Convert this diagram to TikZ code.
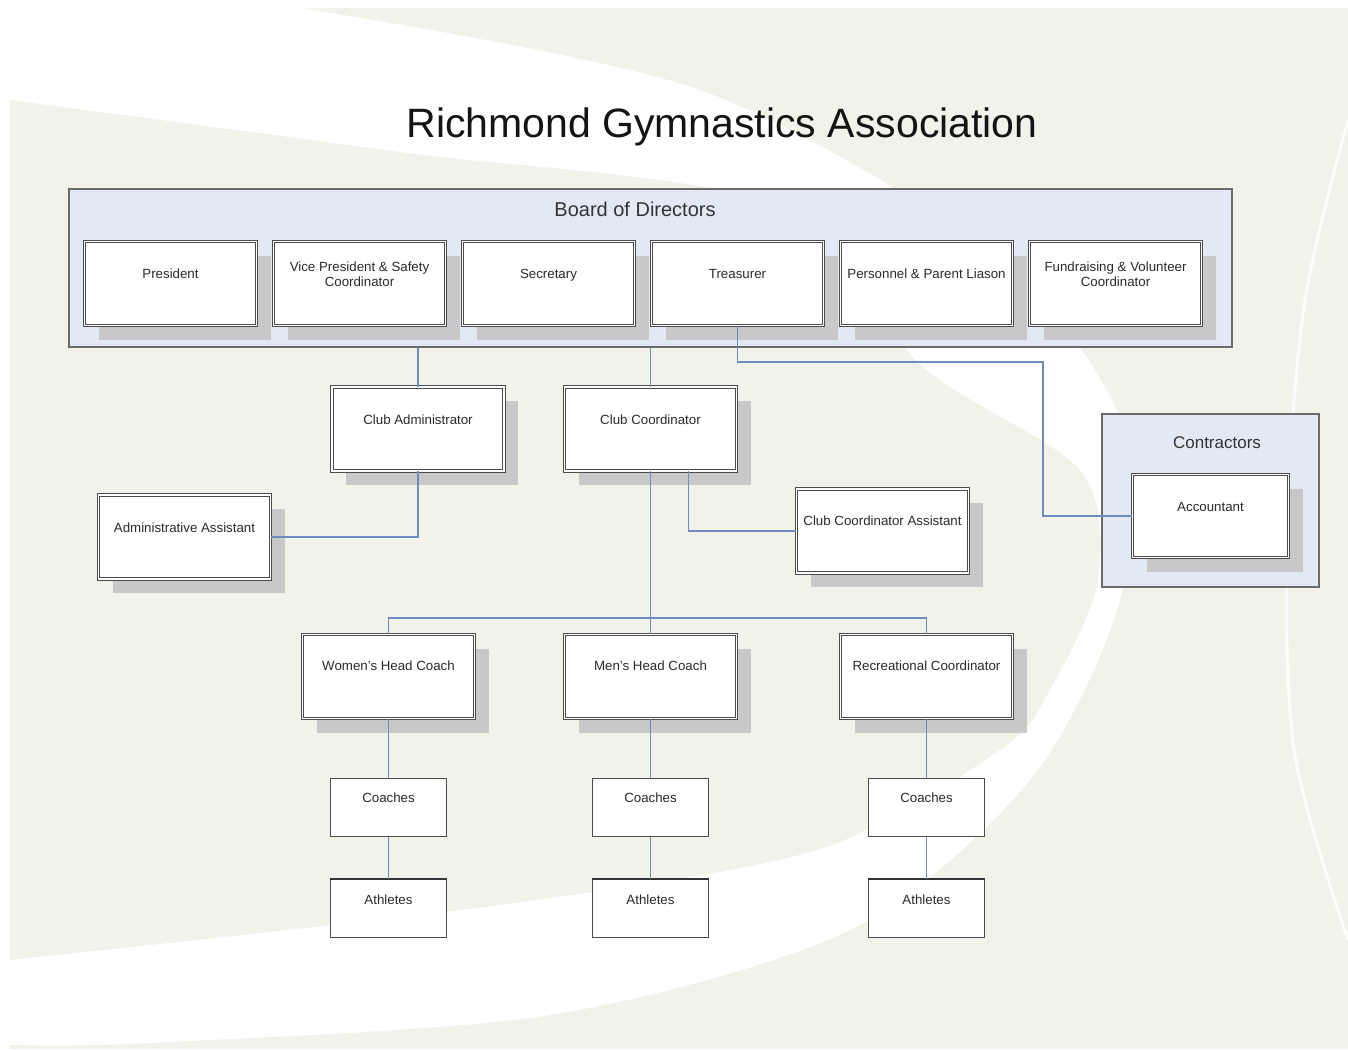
\documentclass[tikz,border=0pt]{standalone}
\usepackage{fontspec}
\setmainfont{Liberation Sans}
\usetikzlibrary{shadows}
\definecolor{bg}{HTML}{F2F2EA}
\definecolor{boardfill}{HTML}{E3E9F4}
\definecolor{frame}{HTML}{6B6B6B}
\definecolor{conn}{HTML}{6F8CC0}
\definecolor{shade}{HTML}{C8C8C8}
\definecolor{txt}{HTML}{2A2A2A}
\newcommand\lift[2]{\raisebox{#1}[0pt][0pt]{#2}}
\newcommand\twol[2]{\begin{tabular}[b]{@{}c@{}}#1\\#2\end{tabular}}
\begin{document}
\begin{tikzpicture}[x=1pt,y=-1pt,
 every node/.style={font=\fontsize{13.3}{15}\selectfont, text=txt, inner sep=0pt},
 dbox/.style={draw=black!70, line width=0.8pt, double=white, double distance=1.6pt, fill=white,
   minimum width=172pt, minimum height=84pt,
   drop shadow={shadow xshift=14pt, shadow yshift=-14pt, fill=shade, opacity=1}},
 sbox/.style={draw=black!70, line width=1pt, fill=white, minimum width=116pt, minimum height=58pt},
 group/.style={draw=frame, line width=1.5pt, fill=boardfill},
 link/.style={draw=conn, line width=1.3pt}]
\useasboundingbox (0,0) rectangle (1348,1049);
% background
\fill[white] (0,0) rectangle (1348,1049);
\fill[bg] (10,8) rectangle (1348,1049);
\fill[white] plot[smooth] coordinates {(10,100) (400,152) (774,205) (923,367) (1080,470) (1098,580) (1050,690) (1000,750) (817,850) (500,905) (10,960)}
  -- plot[smooth] coordinates {(10,1045) (150,1043) (550,1015) (850,930) (1030,780) (1120,600) (1125,430) (1000,260) (700,90) (300,8)} -- (10,8) -- cycle;
\draw[white, line width=3pt, opacity=0.8] plot[smooth] coordinates {(1348,120) (1305,300) (1287,520) (1294,750) (1348,940)};

% title
\node[font=\fontsize{41}{48}\selectfont, text=black!92, anchor=base] (title) at (722,137) {Richmond Gymnastics Association};

% groups
\node[group, minimum width=1163pt, minimum height=158pt] (board) at (650.5,268) {};
\node[font=\fontsize{20}{23}\selectfont, anchor=base, text=black!80] (boardlbl) at (635,216) {Board of Directors};
\node[group, minimum width=217pt, minimum height=173pt] (contr) at (1210.5,500.5) {};
\node[font=\fontsize{17}{20}\selectfont, anchor=base, text=black!80] (contrlbl) at (1217,448) {Contractors};

% board members
\node[dbox] (pres) at (170.5,283.5) {\lift{5pt}{President}};
\node[dbox] (vp)   at (359.5,283.5) {\lift{-3pt}{\twol{Vice President \& Safety}{Coordinator}}};
\node[dbox] (sec)  at (548.5,283.5) {\lift{5pt}{Secretary}};
\node[dbox] (tre)  at (737.5,283.5) {\lift{5pt}{Treasurer}};
\node[dbox] (per)  at (926.5,283.5) {\lift{5pt}{Personnel \& Parent Liason}};
\node[dbox] (fun)  at (1115.5,283.5) {\lift{-3pt}{\twol{Fundraising \& Volunteer}{Coordinator}}};

% other positions
\coordinate (tcorner) at (1043,362);
\coordinate (hj) at (650.5,618);
\node[dbox, minimum width=156pt, minimum height=83pt] (acc) at (1210.5,516) {\lift{4.5pt}{Accountant}};
\node[dbox] (ca)  at (418,429) {\lift{4.5pt}{Club Administrator}};
\node[dbox] (cc)  at (650.5,429) {\lift{4.5pt}{Club Coordinator}};
\node[dbox] (aa)  at (184.5,537) {\lift{5pt}{Administrative Assistant}};
\node[dbox] (cca) at (882.5,531) {\lift{5.5pt}{Club Coordinator Assistant}};
\node[dbox] (wh)  at (388.5,676.5) {\lift{6pt}{Women's Head Coach}};
\node[dbox] (mh)  at (650.5,676.5) {\lift{6pt}{Men's Head Coach}};
\node[dbox] (rc)  at (926.5,676.5) {\lift{6pt}{Recreational Coordinator}};
\node[sbox] (wc) at (388.5,807) {\lift{4.5pt}{Coaches}};
\node[sbox] (mc) at (650.5,807) {\lift{4.5pt}{Coaches}};
\node[sbox] (rcc) at (926.5,807) {\lift{4.5pt}{Coaches}};
\node[sbox] (wa) at (388.5,908.5) {\lift{4pt}{Athletes}};
\node[sbox] (ma) at (650.5,908.5) {\lift{4pt}{Athletes}};
\node[sbox] (ra) at (926.5,908.5) {\lift{4pt}{Athletes}};
\foreach \n in {wa,ma,ra} \draw[black!80, line width=2.5pt] (\n.north west) -- (\n.north east);

% connectors
\draw[link] (tre.south) |- (tcorner) |- (acc.west);
\draw[link] (ca.north) -- (ca.north |- board.south);
\draw[link] (cc.north) -- (cc.north |- board.south);
\draw[link] (ca.south) |- (aa.east);
\draw[link] ([xshift=38pt]cc.south) |- (cca.west);
\draw[link] (cc.south) -- (hj);
\draw[link] (wh.north) |- (hj) -| (rc.north);
\draw[link] (hj) -- (mh.north);
\draw[link] (wh.south) -- (wc.north);
\draw[link] (mh.south) -- (mc.north);
\draw[link] (rc.south) -- (rcc.north);
\draw[link] (wc.south) -- (wa.north);
\draw[link] (mc.south) -- (ma.north);
\draw[link] (rcc.south) -- (ra.north);
\end{tikzpicture}
\end{document}
